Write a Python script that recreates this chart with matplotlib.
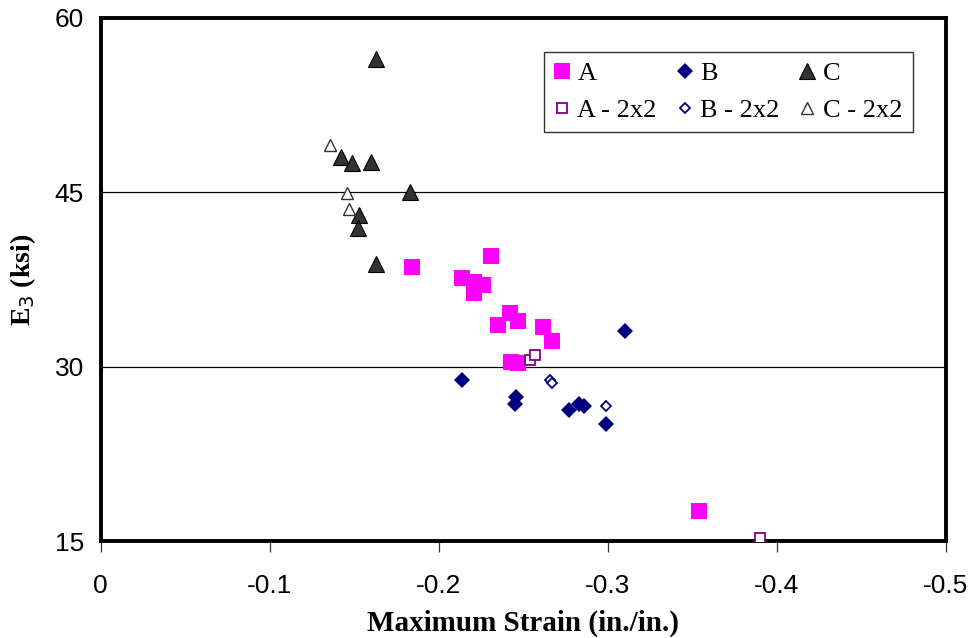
import numpy as np
import matplotlib
matplotlib.use('Agg')
import matplotlib.pyplot as plt

# E3 modulus vs maximum strain, grouped by mix
a_strain = [-0.184, -0.231, -0.214, -0.221, -0.226, -0.221, -0.242, -0.235,
            -0.247, -0.262, -0.267, -0.243, -0.247, -0.354]
a_e3 = [38.6, 39.5, 37.6, 37.3, 37.0, 36.3, 34.6, 33.6,
        33.9, 33.4, 32.2, 30.4, 30.3, 17.6]

a22_strain = [-0.254, -0.257, -0.390]
a22_e3 = [30.6, 31.0, 15.25]

b_strain = [-0.214, -0.310, -0.246, -0.245, -0.277, -0.283, -0.286, -0.299]
b_e3 = [28.85, 33.05, 27.4, 26.8, 26.3, 26.75, 26.6, 25.1]

b22_strain = [-0.266, -0.267, -0.299]
b22_e3 = [28.85, 28.6, 26.65]

c_strain = [-0.163, -0.142, -0.149, -0.160, -0.183, -0.153, -0.152, -0.163]
c_e3 = [56.5, 48.0, 47.55, 47.6, 45.0, 43.05, 41.9, 38.8]

c22_strain = [-0.136, -0.146, -0.147]
c22_e3 = [49.05, 44.9, 43.55]

x_ticks = [0, -0.1, -0.2, -0.3, -0.4, -0.5]
x_ticklabels = ['0', '-0.1', '-0.2', '-0.3', '-0.4', '-0.5']
y_ticks = [15, 30, 45, 60]

fig = plt.figure(figsize=(9.72, 6.38), dpi=100)
ax = fig.add_axes([0.1035, 0.152, 0.8695, 0.8198])

ha, = ax.plot(a_strain, a_e3, 's', color='#FF00FF', markersize=11, markeredgewidth=0, label='A', zorder=3)
hb, = ax.plot(b_strain, b_e3, 'D', color='#000080', markersize=8, markeredgewidth=0, label='B', zorder=3)
hc, = ax.plot(c_strain, c_e3, '^', color='#333333', markeredgecolor='black', markersize=11,
              markeredgewidth=0.8, label='C', zorder=3)
ha22, = ax.plot(a22_strain, a22_e3, 's', markerfacecolor='white', markeredgecolor='#800080',
                markersize=7.5, markeredgewidth=1.3, label='A - 2x2', zorder=4)
hb22, = ax.plot(b22_strain, b22_e3, 'D', markerfacecolor='white', markeredgecolor='#000080',
                markersize=5.5, markeredgewidth=1.3, label='B - 2x2', zorder=4)
hc22, = ax.plot(c22_strain, c22_e3, '^', markerfacecolor='white', markeredgecolor='#333333',
                markersize=8, markeredgewidth=1.0, label='C - 2x2', zorder=4)

ax.set_xlim(0, -0.5)
ax.set_ylim(15, 60)
ax.set_xticks(x_ticks)
ax.set_xticklabels(x_ticklabels)
ax.set_yticks(y_ticks)

for yv in [30, 45]:
    ax.axhline(yv, color='black', linewidth=0.9, zorder=1)

for s in ax.spines.values():
    s.set_linewidth(2.8)
    s.set_color('black')

ax.tick_params(axis='x', direction='out', length=8, width=0.9, color='#333333',
               labelsize=19, pad=16)
ax.tick_params(axis='y', length=0, labelsize=19, pad=12)
for lab in ax.get_xticklabels() + ax.get_yticklabels():
    lab.set_fontfamily('Liberation Sans')

ax.set_xlabel('Maximum Strain (in./in.)', fontsize=21, fontweight='bold',
              family='Liberation Serif', labelpad=8)
ax.set_ylabel('E$_3$ (ksi)', fontsize=20, fontweight='bold',
              family='Liberation Serif', labelpad=12)

# legend fills column by column, so order handles to read A B C across the top row
handles = [ha, ha22, hb, hb22, hc, hc22]
labels = [h.get_label() for h in handles]
leg = ax.legend(handles, labels, ncol=3, loc='upper right', bbox_to_anchor=(0.961, 0.935),
                prop={'family': 'Liberation Serif', 'size': 19},
                frameon=True, fancybox=False, edgecolor='black',
                handlelength=0.6, handletextpad=0.3, columnspacing=0.75,
                borderpad=0.38, labelspacing=0.5, borderaxespad=0)
leg.get_frame().set_linewidth(1.0)

fig.savefig('out.png', dpi=100)
